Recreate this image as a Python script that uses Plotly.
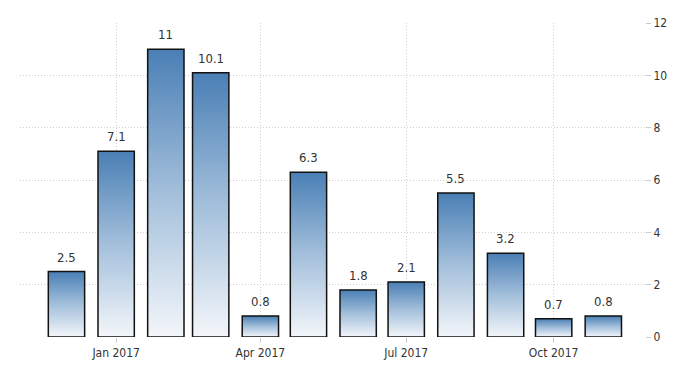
import plotly.graph_objects as go
import pandas as pd

# ---- data ----
months = ["2016-12-01", "2017-01-01", "2017-02-01", "2017-03-01", "2017-04-01", "2017-05-01",
          "2017-06-01", "2017-07-01", "2017-08-01", "2017-09-01", "2017-10-01", "2017-11-01"]
values = [2.5, 7.1, 11, 10.1, 0.8, 6.3, 1.8, 2.1, 5.5, 3.2, 0.7, 0.8]
labels = ["2.5", "7.1", "11", "10.1", "0.8", "6.3", "1.8", "2.1", "5.5", "3.2", "0.7", "0.8"]
xtick_vals = ["2017-01-01", "2017-04-01", "2017-07-01", "2017-10-01"]
xtick_text = ["Jan 2017", "Apr 2017", "Jul 2017", "Oct 2017"]
ytick_vals = [0, 2, 4, 6, 8, 10, 12]

# ---- style ----
FONT = "DejaVu Sans Condensed, Liberation Sans, sans-serif"
HALF_WIDTH = pd.Timedelta(hours=272)
GRADIENT = [[0, "#f3f6fa"], [0.5, "#a3bfdb"], [1, "#4a7fb5"]]
GRID = "#cfcfcf"

fig = go.Figure()
dts = pd.to_datetime(months)
for d, v in zip(dts, values):
    x0, x1 = d - HALF_WIDTH, d + HALF_WIDTH
    fig.add_trace(go.Scatter(
        x=[x0, x0, x1, x1, x0], y=[0, v, v, 0, 0],
        mode="lines", fill="toself",
        fillgradient=dict(type="vertical", colorscale=GRADIENT),
        line=dict(color="#111111", width=1.5),
        hoverinfo="skip", showlegend=False,
    ))

for d, v, t in zip(dts, values, labels):
    fig.add_annotation(x=d, y=v, text=t, showarrow=False, yanchor="bottom", yshift=5,
                       font=dict(family=FONT, size=13, color="#333333"))

tickfont = dict(family=FONT, size=12, color="#333333")
fig.update_layout(
    width=700, height=375,
    margin=dict(l=20, r=55, t=23, b=38),
    paper_bgcolor="white", plot_bgcolor="white",
    showlegend=False,
    font=dict(family=FONT, size=12, color="#333333"),
    xaxis=dict(
        type="date", range=["2016-11-02", "2017-11-27"],
        tickvals=xtick_vals, ticktext=xtick_text,
        showgrid=True, gridcolor=GRID, griddash="1px,2px", gridwidth=1,
        ticks="outside", ticklen=5, tickcolor="#cccccc",
        showline=False, zeroline=False,
        tickfont=tickfont,
    ),
    yaxis=dict(
        side="right", range=[0, 12], tickvals=ytick_vals,
        showgrid=True, gridcolor=GRID, griddash="1px,2px", gridwidth=1,
        ticks="outside", ticklen=5, tickcolor="#cccccc",
        showline=False, zeroline=False,
        tickfont=tickfont,
    ),
)

fig.write_html("out.html")
